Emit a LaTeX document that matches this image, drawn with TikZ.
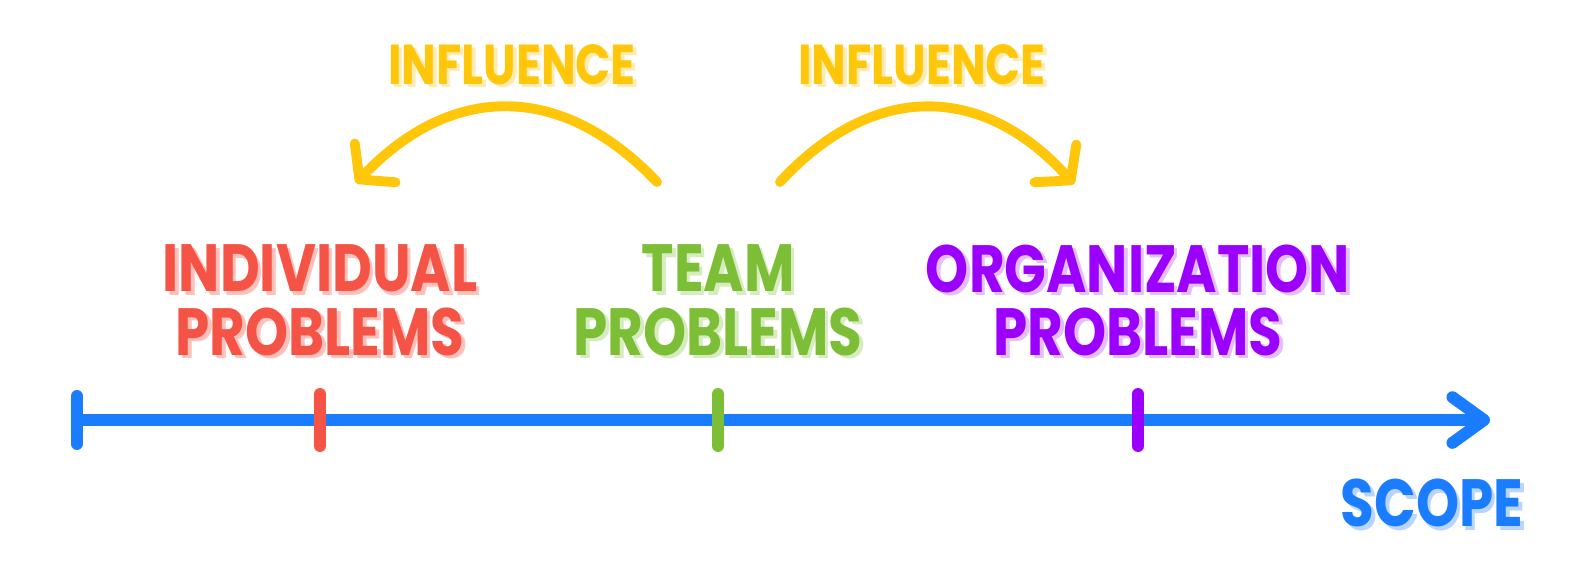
\documentclass[tikz,border=0pt]{standalone}
\usepackage{fontspec}
\setmainfont{Poppins}[FakeStretch=0.82]
\usetikzlibrary{arrows.meta}
\definecolor{scopeblue}{RGB}{26,125,255}
\definecolor{scopeshade}{RGB}{185,212,255}
\definecolor{indred}{RGB}{245,83,70}
\definecolor{indshade}{RGB}{255,192,186}
\definecolor{teamgreen}{RGB}{125,190,55}
\definecolor{teamshade}{RGB}{214,236,190}
\definecolor{orgpurple}{RGB}{155,0,255}
\definecolor{orgshade}{RGB}{226,190,255}
\definecolor{infyellow}{RGB}{255,198,10}
\definecolor{infshade}{RGB}{255,236,180}
% text with a soft offset copy behind it
\newcommand{\shadowed}[3]{\makebox[0pt][l]{\kern1pt\raisebox{-1pt}{\textcolor{#2}{#3}}}\textcolor{#1}{#3}}

\begin{document}
\begin{tikzpicture}[x=0.01cm,y=-0.01cm,
    axisline/.style={line width=3.4pt, scopeblue, line cap=round},
    tickmark/.style={line width=3.4pt, line cap=round},
    influencearc/.style={line width=2.8pt, infyellow, line cap=round,
        -{Straight Barb[length=6.5pt, width=16pt, round]}},
    bigword/.style={font=\fontsize{19}{18}\selectfont\bfseries, align=center, inner sep=1pt},
    smallword/.style={font=\fontsize{16}{18}\selectfont\bfseries}]
     \useasboundingbox (0,0) rectangle (1580,584);

     % scope axis
     \coordinate (start) at (77,420);
     \coordinate (end) at (1490,420);
     \draw [axisline, -{Straight Barb[length=9pt, width=13pt, round]}] (start) -- (end);
     \draw [tickmark, scopeblue] (77,396) -- (77,444);
     \draw [tickmark, indred] (320,394) -- (320,446);
     \draw [tickmark, teamgreen] (718,394) -- (718,446);
     \draw [tickmark, orgpurple] (1138,394) -- (1138,446);

     % problem labels
     \node [bigword] (individual) at (320,302){\shadowed{indred}{indshade}{INDIVIDUAL}\\\shadowed{indred}{indshade}{PROBLEMS}};
     \node [bigword] (team) at (718,302){\shadowed{teamgreen}{teamshade}{TEAM}\\\shadowed{teamgreen}{teamshade}{PROBLEMS}};
     \node [bigword] (organization) at (1138,302){\shadowed{orgpurple}{orgshade}{ORGANIZATION}\\\shadowed{orgpurple}{orgshade}{PROBLEMS}};
     \node [bigword] (scope) at (1432,505){\shadowed{scopeblue}{scopeshade}{SCOPE}};

     % influence arcs
     \coordinate (leftfrom) at (657,182);
     \coordinate (leftto) at (356,183);
     \coordinate (rightfrom) at (780,182);
     \coordinate (rightto) at (1074,184);
     \draw [influencearc] (leftfrom) .. controls (562,82) and (452,82) .. (leftto);
     \draw [influencearc] (rightfrom) .. controls (872,82) and (982,82) .. (rightto);
     \node [smallword] (influenceleft) at (512,66){\shadowed{infyellow}{infshade}{INFLUENCE}};
     \node [smallword] (influenceright) at (922,66){\shadowed{infyellow}{infshade}{INFLUENCE}};
\end{tikzpicture}
\end{document}
